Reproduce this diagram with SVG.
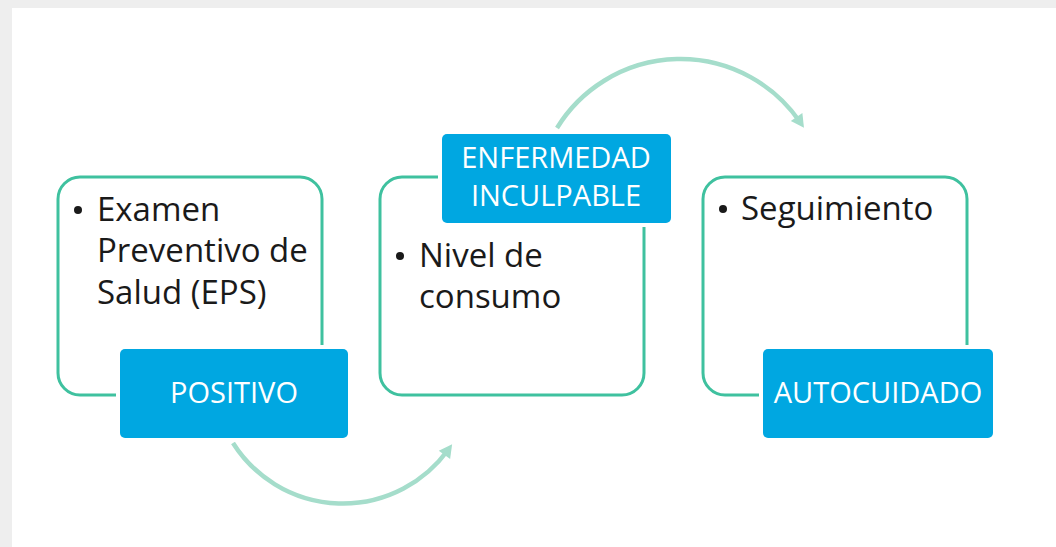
<svg xmlns="http://www.w3.org/2000/svg" width="1056" height="547" viewBox="0 0 1056 547">
<style>
.outline{fill:#ffffff;stroke:#3fc19f;stroke-width:3}
.halo{fill:#ffffff}
.label{fill:#00a7e1}
.lt{font-family:"Open Sans","Liberation Sans",sans-serif;font-size:29px;fill:#ffffff;text-anchor:middle}
.bt{font-family:"Open Sans","Liberation Sans",sans-serif;font-size:33px;fill:#1a1a1a}
.bul{fill:#1a1a1a}
.conn{fill:none;stroke:#a5ddcb;stroke-width:4.5}
</style>
<defs>
<marker id="ah" markerUnits="userSpaceOnUse" markerWidth="16" markerHeight="16" viewBox="0 0 16 16" refX="8" refY="8" orient="auto">
<path d="M2,1 L15,8 L2,15 Z" fill="#a5ddcb"/>
</marker>
</defs>
<rect x="0" y="0" width="1056" height="547" fill="#eeeeee"/>
<rect x="12" y="8" width="1044" height="539" fill="#ffffff"/>
<g id="connectors">
<path class="conn" d="M233,443 A130,130 0 0 0 448,450" marker-end="url(#ah)"/>
<path class="conn" d="M557,128 A145,145 0 0 1 800,122" marker-end="url(#ah)"/>
</g>
<g id="node-examen">
<rect class="outline" x="58" y="177" width="264" height="218" rx="22"/>
<circle class="bul" cx="78" cy="210" r="4"/>
<text class="bt" x="97" y="221">Examen</text>
<text class="bt" x="97" y="262">Preventivo de</text>
<text class="bt" x="97" y="304">Salud (EPS)</text>
</g>
<g id="node-positivo">
<rect class="halo" x="116" y="345" width="236" height="97" rx="8"/>
<rect class="label" x="120" y="349" width="228" height="89" rx="5"/>
<text class="lt" x="234" y="403">POSITIVO</text>
</g>
<g id="node-nivel">
<rect class="outline" x="380" y="177" width="264" height="218" rx="22"/>
<circle class="bul" cx="400" cy="256" r="4"/>
<text class="bt" x="419" y="267">Nivel de</text>
<text class="bt" x="419" y="308">consumo</text>
</g>
<g id="node-enfermedad">
<rect class="halo" x="438" y="130" width="237" height="97" rx="8"/>
<rect class="label" x="442" y="134" width="229" height="89" rx="5"/>
<text class="lt" x="556" y="168">ENFERMEDAD</text>
<text class="lt" x="556" y="206">INCULPABLE</text>
</g>
<g id="node-seguimiento">
<rect class="outline" x="703" y="177" width="264" height="218" rx="22"/>
<circle class="bul" cx="723" cy="209" r="4"/>
<text class="bt" x="741" y="220">Seguimiento</text>
</g>
<g id="node-autocuidado">
<rect class="halo" x="759" y="345" width="238" height="97" rx="8"/>
<rect class="label" x="763" y="349" width="230" height="89" rx="5"/>
<text class="lt" x="878" y="403">AUTOCUIDADO</text>
</g>
</svg>
